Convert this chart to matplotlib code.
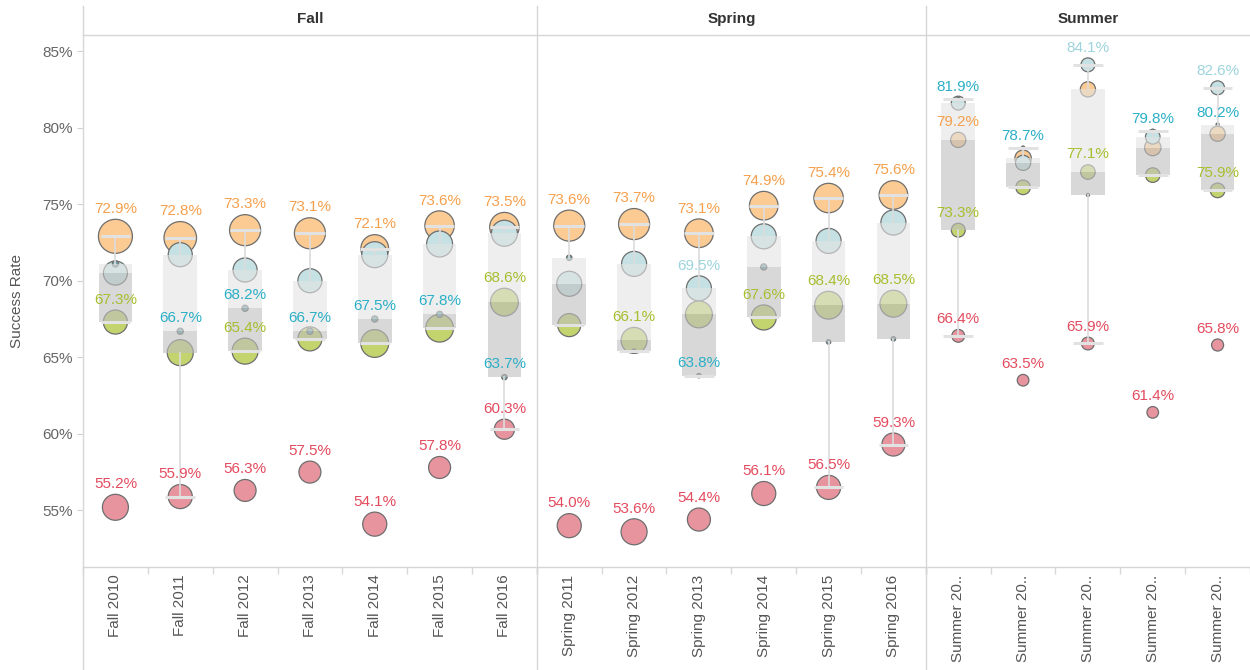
import numpy as np
import matplotlib.pyplot as plt
from matplotlib.lines import Line2D

plt.rcParams['font.family'] = ['Liberation Sans', 'DejaVu Sans']

# terms per season
fall_terms = ['Fall 2010', 'Fall 2011', 'Fall 2012', 'Fall 2013', 'Fall 2014', 'Fall 2015', 'Fall 2016']
spring_terms = ['Spring 2011', 'Spring 2012', 'Spring 2013', 'Spring 2014', 'Spring 2015', 'Spring 2016']
summer_terms = ['Summer 2011', 'Summer 2012', 'Summer 2013', 'Summer 2014', 'Summer 2015']
summer_ticklabels = ['Summer 20..'] * 5

# success rates (%) per group
fall_orange = [72.9, 72.8, 73.3, 73.1, 72.1, 73.6, 73.5]
fall_lightblue = [70.5, 71.7, 70.7, 70.0, 71.7, 72.4, 73.1]
fall_green = [67.3, 65.3, 65.4, 66.2, 65.9, 66.9, 68.6]
fall_red = [55.2, 55.9, 56.3, 57.5, 54.1, 57.8, 60.3]
fall_teal = [71.1, 66.7, 68.2, 66.7, 67.5, 67.8, 63.7]

spring_orange = [73.6, 73.7, 73.1, 74.9, 75.4, 75.6]
spring_lightblue = [69.8, 71.1, 69.5, 72.9, 72.6, 73.8]
spring_green = [67.1, 66.1, 67.8, 67.6, 68.4, 68.5]
spring_red = [54.0, 53.6, 54.4, 56.1, 56.5, 59.3]
spring_teal = [71.5, 65.4, 63.8, 70.9, 66.0, 66.2]

summer_orange = [79.2, 78.0, 82.5, 78.7, 79.6]
summer_lightblue = [81.6, 77.7, 84.1, 79.4, 82.6]
summer_green = [73.3, 76.1, 77.1, 76.9, 75.9]
summer_red = [66.4, 63.5, 65.9, 61.4, 65.8]
summer_teal = [81.9, 78.7, 75.6, 79.8, 80.2]

# headcounts (bubble size)
fall_orange_n = [1200, 1100, 1000, 1000, 800, 900, 900]
fall_lightblue_n = [600, 600, 600, 600, 700, 700, 700]
fall_green_n = [600, 700, 700, 600, 800, 800, 800]
fall_red_n = [700, 600, 500, 500, 600, 500, 420]
fall_teal_n = [40, 40, 40, 40, 40, 40, 30]

spring_orange_n = [1000, 1000, 850, 850, 900, 850]
spring_lightblue_n = [650, 650, 650, 650, 650, 650]
spring_green_n = [550, 700, 750, 650, 800, 750]
spring_red_n = [600, 700, 550, 600, 600, 550]
spring_teal_n = [30, 20, 20, 40, 20, 20]

summer_orange_n = [240, 280, 240, 280, 240]
summer_lightblue_n = [200, 240, 200, 220, 200]
summer_green_n = [200, 220, 220, 220, 220]
summer_red_n = [170, 140, 170, 140, 150]
summer_teal_n = [10, 10, 10, 10, 10]

# which labels are displayed
label_shown = {
    'orange': fall_terms + spring_terms + ['Summer 2011'],
    'lightblue': ['Spring 2013', 'Summer 2013', 'Summer 2015'],
    'green': ['Fall 2010', 'Fall 2012', 'Fall 2016', 'Spring 2012', 'Spring 2014',
              'Spring 2015', 'Spring 2016', 'Summer 2011', 'Summer 2013', 'Summer 2015'],
    'red': fall_terms + spring_terms + summer_terms,
    'teal': ['Fall 2011', 'Fall 2012', 'Fall 2013', 'Fall 2014', 'Fall 2015', 'Fall 2016',
             'Spring 2013', 'Summer 2011', 'Summer 2012', 'Summer 2014', 'Summer 2015'],
}

fill = {'orange': '#FBCB93', 'lightblue': '#C6E1E4', 'green': '#C3D46E',
        'red': '#E8949F', 'teal': '#6FA6AE'}
text_col = {'orange': '#F5A04C', 'lightblue': '#9DD4DC', 'green': '#A8BE2E',
            'red': '#E34B5E', 'teal': '#2BAFC6'}

seasons = [
    ('Fall', fall_terms, fall_terms,
     {'orange': fall_orange, 'lightblue': fall_lightblue, 'green': fall_green, 'red': fall_red, 'teal': fall_teal},
     {'orange': fall_orange_n, 'lightblue': fall_lightblue_n, 'green': fall_green_n, 'red': fall_red_n, 'teal': fall_teal_n}),
    ('Spring', spring_terms, spring_terms,
     {'orange': spring_orange, 'lightblue': spring_lightblue, 'green': spring_green, 'red': spring_red, 'teal': spring_teal},
     {'orange': spring_orange_n, 'lightblue': spring_lightblue_n, 'green': spring_green_n, 'red': spring_red_n, 'teal': spring_teal_n}),
    ('Summer', summer_terms, summer_ticklabels,
     {'orange': summer_orange, 'lightblue': summer_lightblue, 'green': summer_green, 'red': summer_red, 'teal': summer_teal},
     {'orange': summer_orange_n, 'lightblue': summer_lightblue_n, 'green': summer_green_n, 'red': summer_red_n, 'teal': summer_teal_n}),
]

W, H = 1250, 670
fig = plt.figure(figsize=(W / 100, H / 100), dpi=100)

left_px = 83
col_px = (1250 - left_px) / 18
top_px, bot_px = 35, 567
ymin, ymax = 51.3, 86.05

x0 = left_px
axes = []
for name, terms, ticklabels, vals, counts in seasons:
    n = len(terms)
    w = n * col_px
    ax = fig.add_axes([x0 / W, 1 - bot_px / H, w / W, (bot_px - top_px) / H])
    axes.append(ax)
    ax.set_xlim(-0.5, n - 0.5)
    ax.set_ylim(ymin, ymax)
    for s in ax.spines.values():
        s.set_visible(False)

    xs = np.arange(n)
    # circles
    for key in ['orange', 'lightblue', 'green', 'red', 'teal']:
        ax.scatter(xs, vals[key], s=np.array(counts[key]) * 0.5, color=fill[key],
                   edgecolor='#6E6E6E', linewidth=0.9, zorder=2)

    # box plots
    for i in range(n):
        v = np.array([vals[k][i] for k in ['orange', 'lightblue', 'green', 'red', 'teal']])
        q1, med, q3 = np.percentile(v, [25, 50, 75])
        iqr = q3 - q1
        lo = v[v >= q1 - 1.5 * iqr].min()
        hi = v[v <= q3 + 1.5 * iqr].max()
        bw = 0.26
        ax.fill_between([i - bw, i + bw], med, q3, color='#E3E3E3', alpha=0.6, lw=0, zorder=3)
        ax.fill_between([i - bw, i + bw], q1, med, color='#BFBFBF', alpha=0.6, lw=0, zorder=3)
        ax.plot([i, i], [q3, hi], color='#DCDCDC', lw=1.2, zorder=4)
        ax.plot([i, i], [lo, q1], color='#DCDCDC', lw=1.2, zorder=4)
        for yv in (lo, hi):
            ax.plot([i - 0.23, i + 0.23], [yv, yv], color='#E2E2E2', lw=2.2, zorder=4,
                    solid_capstyle='butt')

    # labels
    for key in ['orange', 'lightblue', 'green', 'red', 'teal']:
        for i, t in enumerate(terms):
            if t in label_shown[key]:
                r_pt = np.sqrt(counts[key][i] * 0.5) / 2
                ax.annotate(f'{vals[key][i]:.1f}%', (i, vals[key][i]),
                            xytext=(0, r_pt + 4.5), textcoords='offset points',
                            ha='center', va='baseline', fontsize=11,
                            color=text_col[key], zorder=6)

    ax.set_xticks(xs)
    ax.set_xticklabels(ticklabels, rotation=90, fontsize=11, color='#555555')
    ax.set_xticks(np.arange(n + 1) - 0.5, minor=True)
    ax.tick_params(axis='x', which='major', length=0, pad=5.5)
    ax.tick_params(axis='x', which='minor', length=5, color='#D8D8D8', width=1)
    ax.set_yticks([55, 60, 65, 70, 75, 80, 85])
    ax.tick_params(axis='y', length=0, labelleft=False)

    fig.text((x0 + w / 2) / W, 1 - 19 / H, name, ha='center', va='center',
             fontsize=11, fontweight='bold', color='#333333')
    x0 += w

ax0 = axes[0]
ax0.tick_params(axis='y', length=4.3, color='#D0D0D0', labelleft=True, labelsize=11,
                labelcolor='#666666', pad=3)
ax0.set_yticklabels([f'{t}%' for t in [55, 60, 65, 70, 75, 80, 85]])
fig.text(17 / W, 1 - 301 / H, 'Success Rate', rotation=90, ha='center', va='center',
         fontsize=11, color='#555555')

# frame lines
line_col = '#D6D6D6'
fig.add_artist(Line2D([left_px / W, 1], [1 - top_px / H] * 2, color=line_col, lw=1))
fig.add_artist(Line2D([left_px / W, 1], [1 - bot_px / H] * 2, color=line_col, lw=1))
xb = left_px
for name, terms, *_ in seasons:
    fig.add_artist(Line2D([xb / W] * 2, [0, 1 - 6 / H], color=line_col, lw=1))
    xb += len(terms) * col_px

fig.savefig('out.png', dpi=100)
